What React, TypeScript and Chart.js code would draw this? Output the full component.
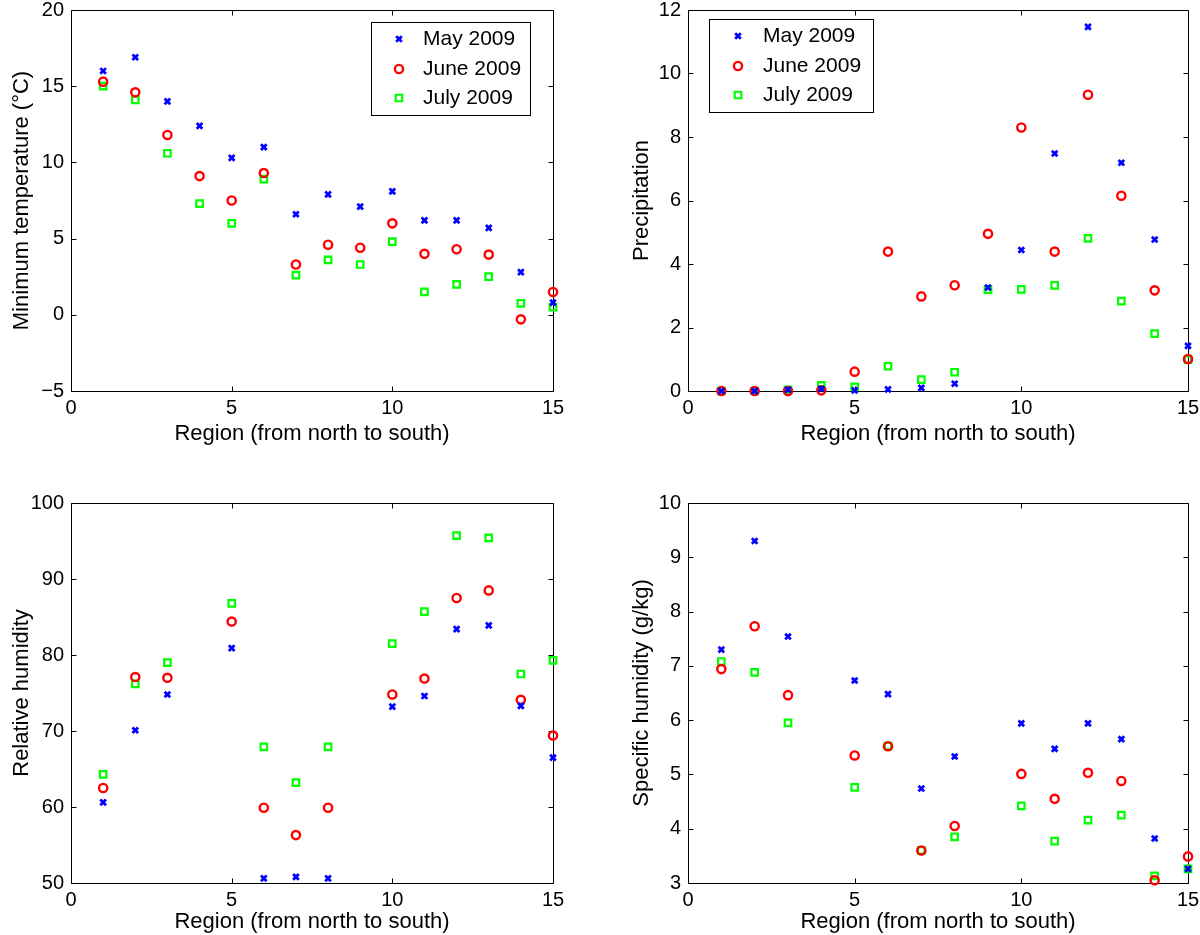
import React, { useEffect, useRef } from 'react';
import { Chart, registerables } from 'chart.js';
import { drawPoint } from 'chart.js/helpers';

Chart.register(...registerables);

// ---------- data ----------
const regions = [1, 2, 3, 4, 5, 6, 7, 8, 9, 10, 11, 12, 13, 14, 15];
const seriesNames = ['May 2009', 'June 2009', 'July 2009'];
const xTitle = 'Region (from north to south)';
const xRange = [0, 15];
const xStep = 5;

const tminMay = [16.0, 16.9, 14.0, 12.4, 10.3, 11.0, 6.6, 7.9, 7.1, 8.1, 6.2, 6.2, 5.7, 2.8, 0.8];
const tminJune = [15.3, 14.6, 11.8, 9.1, 7.5, 9.3, 3.3, 4.6, 4.4, 6.0, 4.0, 4.3, 3.95, -0.3, 1.5];
const tminJuly = [15.0, 14.1, 10.6, 7.3, 6.0, 8.9, 2.6, 3.6, 3.3, 4.8, 1.5, 2.0, 2.5, 0.75, 0.5];

const precipMay = [0, 0, 0.04, 0.07, 0.02, 0.05, 0.1, 0.23, 3.26, 4.44, 7.48, 11.47, 7.19, 4.77, 1.42];
const precipJune = [0, 0, 0, 0.02, 0.61, 4.39, 2.98, 3.33, 4.95, 8.3, 4.39, 9.33, 6.15, 3.17, 1.01];
const precipJuly = [0, 0, 0.04, 0.18, 0.13, 0.78, 0.36, 0.59, 3.19, 3.2, 3.33, 4.81, 2.83, 1.81, 0.99];

const rhMay = [60.6, 70.1, 74.8, null, 80.9, 50.6, 50.8, 50.6, null, 73.2, 74.6, 83.4, 83.9, 73.3, 66.5];
const rhJune = [62.5, 77.1, 77.0, null, 84.4, 59.9, 56.3, 59.9, null, 74.8, 76.9, 87.5, 88.5, 74.1, 69.4];
const rhJuly = [64.3, 76.2, 79.0, null, 86.8, 67.9, 63.2, 67.9, null, 81.5, 85.7, 95.7, 95.4, 77.5, 79.3];

const shMay = [7.3, 9.3, 7.54, null, 6.73, 6.48, 4.74, 5.33, null, 5.94, 5.47, 5.94, 5.65, 3.82, 3.26];
const shJune = [6.94, 7.73, 6.46, null, 5.35, 5.52, 3.6, 4.05, null, 5.01, 4.55, 5.03, 4.88, 3.05, 3.49];
const shJuly = [7.08, 6.88, 5.95, null, 4.76, 5.52, 3.6, 3.85, null, 4.42, 3.77, 4.16, 4.25, 3.13, 3.26];

const tminRange = [-5, 20];
const tminStep = 5;
const precipRange = [0, 12];
const precipStep = 2;
const rhRange = [50, 100];
const rhStep = 10;
const shRange = [3, 10];
const shStep = 1;

// ---------- styles ----------
const FONT = '"Liberation Sans", Arial, Helvetica, sans-serif';
const markers = [
  { style: 'crossRot', radius: 4, width: 2.8, color: '#0000ff' },
  { style: 'circle', radius: 4.1, width: 2.4, color: '#ff0000' },
  { style: 'rect', radius: 4.6, width: 2.2, color: '#00ff00' },
];

const fmt = (v: number) => (v < 0 ? '\u2212' + Math.abs(v) : String(v));

// frame with inward ticks (MATLAB style)
const framePlugin = {
  id: 'matlabFrame',
  beforeDatasetsDraw(chart: any) {
    const { ctx, chartArea } = chart;
    const { left, right, top, bottom } = chartArea;
    const xs = chart.scales.x;
    const ys = chart.scales.y;
    const r = (v: number) => Math.round(v) + 0.5;
    ctx.save();
    ctx.strokeStyle = '#000';
    ctx.lineWidth = 1;
    ctx.beginPath();
    ctx.rect(r(left), r(top), Math.round(right) - Math.round(left), Math.round(bottom) - Math.round(top));
    const L = 5;
    xs.ticks.forEach((t: any) => {
      const px = r(xs.getPixelForValue(t.value));
      ctx.moveTo(px, r(bottom));
      ctx.lineTo(px, r(bottom) - L);
      ctx.moveTo(px, r(top));
      ctx.lineTo(px, r(top) + L);
    });
    ys.ticks.forEach((t: any) => {
      const py = r(ys.getPixelForValue(t.value));
      ctx.moveTo(r(left), py);
      ctx.lineTo(r(left) + L, py);
      ctx.moveTo(r(right), py);
      ctx.lineTo(r(right) - L, py);
    });
    ctx.stroke();
    ctx.restore();
  },
};

// boxed legend
const boxLegendPlugin = {
  id: 'boxLegend',
  afterDatasetsDraw(chart: any, _args: any, opts: any) {
    if (!opts || !opts.show) return;
    const { ctx } = chart;
    ctx.save();
    ctx.fillStyle = '#fff';
    ctx.fillRect(opts.x, opts.y, opts.w, opts.h);
    ctx.strokeStyle = '#000';
    ctx.lineWidth = 1;
    ctx.strokeRect(opts.x + 0.5, opts.y + 0.5, opts.w, opts.h);
    chart.data.datasets.forEach((ds: any, i: number) => {
      const cy = opts.y + opts.rows[i];
      ctx.save();
      ctx.strokeStyle = ds.pointBorderColor;
      ctx.fillStyle = 'rgba(0,0,0,0)';
      ctx.lineWidth = ds.pointBorderWidth;
      drawPoint(ctx, { pointStyle: ds.pointStyle, radius: ds.pointRadius, borderWidth: ds.pointBorderWidth, rotation: 0 } as any, opts.x + opts.markerX, cy);
      ctx.restore();
      ctx.fillStyle = '#000';
      ctx.font = `${opts.fontSize}px ${FONT}`;
      ctx.textBaseline = 'middle';
      ctx.textAlign = 'left';
      ctx.fillText(ds.label, opts.x + opts.textX, cy);
    });
    ctx.restore();
  },
};

type PanelCfg = {
  left: number; top: number; w: number; h: number;
  area: { l: number; t: number; r: number; b: number };
  series: (number | null)[][];
  yRange: number[]; yStep: number; yTitle: string;
  yTitlePad: number; xTitlePad: number;
  legend?: any;
};

function buildConfig(p: PanelCfg): any {
  const tickFont = { family: FONT, size: 20 };
  const titleFont = { family: FONT, size: 22 };
  return {
    type: 'scatter',
    data: {
      datasets: p.series.map((vals, i) => ({
        label: seriesNames[i],
        data: regions
          .map((r, j) => ({ x: r, y: vals[j] }))
          .filter((d) => d.y !== null),
        pointStyle: markers[i].style,
        pointRadius: markers[i].radius,
        pointHoverRadius: markers[i].radius,
        pointBorderWidth: markers[i].width,
        pointHoverBorderWidth: markers[i].width,
        pointBorderColor: markers[i].color,
        pointBackgroundColor: 'rgba(0,0,0,0)',
        borderColor: markers[i].color,
        backgroundColor: 'rgba(0,0,0,0)',
        showLine: false,
        clip: false,
      })),
    },
    options: {
      animation: false,
      responsive: false,
      devicePixelRatio: 1,
      events: [],
      layout: { padding: { left: 0, top: p.area.t, right: p.w - p.area.r, bottom: 0 } },
      plugins: {
        legend: { display: false },
        tooltip: { enabled: false },
        boxLegend: p.legend || { show: false },
      },
      scales: {
        x: {
          type: 'linear',
          min: xRange[0],
          max: xRange[1],
          ticks: { stepSize: xStep, font: tickFont, color: '#000', padding: 5, autoSkip: false, maxRotation: 0, callback: (v: number) => fmt(v) },
          grid: { display: false, drawTicks: false },
          border: { display: false },
          title: { display: true, text: xTitle, font: titleFont, color: '#000', padding: { top: 0, bottom: p.xTitlePad } },
          afterFit: (s: any) => {
            s.height = p.h - p.area.b;
            s.paddingLeft = 0;
            s.paddingRight = 0;
          },
        },
        y: {
          type: 'linear',
          min: p.yRange[0],
          max: p.yRange[1],
          ticks: { stepSize: p.yStep, font: tickFont, color: '#000', padding: 7, autoSkip: false, callback: (v: number) => fmt(v) },
          grid: { display: false, drawTicks: false },
          border: { display: false },
          title: { display: true, text: p.yTitle, font: titleFont, color: '#000', padding: { top: p.yTitlePad, bottom: 0 } },
          afterFit: (s: any) => {
            s.width = p.area.l;
            s.paddingTop = 0;
            s.paddingBottom = 0;
          },
        },
      },
    },
    plugins: [framePlugin, boxLegendPlugin],
  };
}

const panels: PanelCfg[] = [
  {
    left: 0, top: 0, w: 600, h: 467,
    area: { l: 71, t: 10, r: 553, b: 391 },
    series: [tminMay, tminJune, tminJuly],
    yRange: tminRange, yStep: tminStep, yTitle: 'Minimum temperature (\u00B0C)',
    yTitlePad: 8.3, xTitlePad: 19.8,
    legend: { show: true, x: 371, y: 22, w: 159, h: 93, markerX: 28, textX: 52, rows: [17, 47, 76], fontSize: 21 },
  },
  {
    left: 600, top: 0, w: 600, h: 467,
    area: { l: 88, t: 10, r: 588, b: 391 },
    series: [precipMay, precipJune, precipJuly],
    yRange: precipRange, yStep: precipStep, yTitle: 'Precipitation',
    yTitlePad: 28.3, xTitlePad: 19.8,
    legend: { show: true, x: 109, y: 19, w: 164, h: 93, markerX: 29, textX: 54, rows: [17, 47, 76], fontSize: 21 },
  },
  {
    left: 0, top: 467, w: 600, h: 468,
    area: { l: 71, t: 36, r: 553, b: 416 },
    series: [rhMay, rhJune, rhJuly],
    yRange: rhRange, yStep: rhStep, yTitle: 'Relative humidity',
    yTitlePad: 8.3, xTitlePad: 0,
  },
  {
    left: 600, top: 467, w: 600, h: 468,
    area: { l: 88, t: 36, r: 588, b: 416 },
    series: [shMay, shJune, shJuly],
    yRange: shRange, yStep: shStep, yTitle: 'Specific humidity (g/kg)',
    yTitlePad: 28.3, xTitlePad: 0,
  },
];

function Panel({ cfg }: { cfg: PanelCfg }) {
  const ref = useRef<HTMLCanvasElement>(null);
  useEffect(() => {
    const chart = new Chart(ref.current as HTMLCanvasElement, buildConfig(cfg));
    return () => chart.destroy();
  }, [cfg]);
  return (
    <div style={{ position: 'absolute', left: cfg.left, top: cfg.top, width: cfg.w, height: cfg.h }}>
      <canvas ref={ref} width={cfg.w} height={cfg.h} style={{ display: 'block', width: cfg.w, height: cfg.h }} />
    </div>
  );
}

export default function App() {
  return (
    <div style={{ position: 'absolute', left: 0, top: 0, width: 1200, height: 935, overflow: 'hidden', background: '#fff' }}>
      {panels.map((p, i) => (
        <Panel key={i} cfg={p} />
      ))}
    </div>
  );
}
